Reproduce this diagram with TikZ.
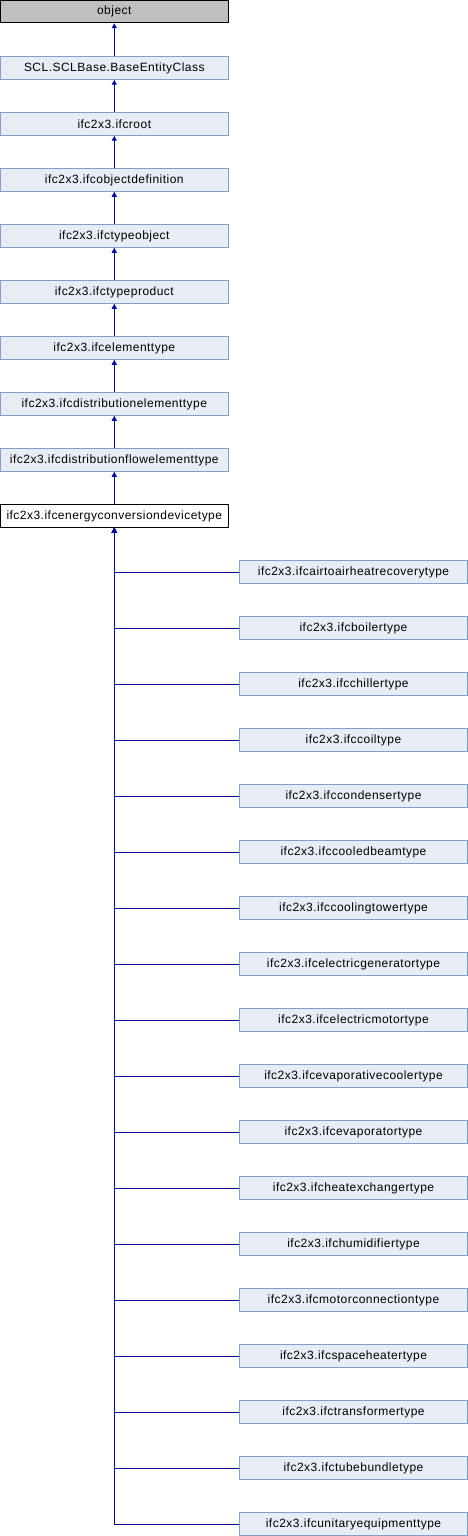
\documentclass[tikz,border=0pt]{standalone}
\usepackage{fontspec}
\setmainfont{Liberation Sans}[LetterSpace=4]
\usetikzlibrary{arrows.meta}
\definecolor{boxfill}{RGB}{232,236,245}
\definecolor{boxline}{RGB}{132,156,206}
\definecolor{edgecol}{RGB}{10,10,150}
\definecolor{grayfill}{RGB}{191,191,191}
\tikzset{
  cls/.style={draw=boxline, fill=boxfill, line width=1pt, minimum width=228pt, minimum height=22.5pt, inner sep=0pt, font=\fontsize{12}{14}\selectfont},
  rootcls/.style={cls, draw=black, fill=grayfill},
  curcls/.style={cls, draw=black, fill=white},
  edge/.style={draw=edgecol, line width=1pt, -{Triangle[length=5pt,width=5pt]}}
}
\begin{document}
\begin{tikzpicture}[x=1pt,y=-1pt]
\useasboundingbox (0,0) rectangle (468,1536);
\node[rootcls] (p0) at (114.3,11.5) {object};
\node[cls] (p1) at (114.3,68) {SCL.SCLBase.BaseEntityClass};
\node[cls] (p2) at (114.3,124) {ifc2x3.ifcroot};
\node[cls] (p3) at (114.3,180) {ifc2x3.ifcobjectdefinition};
\node[cls] (p4) at (114.3,236) {ifc2x3.ifctypeobject};
\node[cls] (p5) at (114.3,292) {ifc2x3.ifctypeproduct};
\node[cls] (p6) at (114.3,348) {ifc2x3.ifcelementtype};
\node[cls] (p7) at (114.3,404) {ifc2x3.ifcdistributionelementtype};
\node[cls] (p8) at (114.3,460) {ifc2x3.ifcdistributionflowelementtype};
\node[curcls] (p9) at (114.3,516) {ifc2x3.ifcenergyconversiondevicetype};
\foreach \a/\b in {p1/p0,p2/p1,p3/p2,p4/p3,p5/p4,p6/p5,p7/p6,p8/p7,p9/p8}
  \draw[edge] (\a.north) -- (\b.south);
\foreach \n [count=\k from 0] in {ifcairtoairheatrecoverytype,ifcboilertype,ifcchillertype,ifccoiltype,ifccondensertype,ifccooledbeamtype,ifccoolingtowertype,ifcelectricgeneratortype,ifcelectricmotortype,ifcevaporativecoolertype,ifcevaporatortype,ifcheatexchangertype,ifchumidifiertype,ifcmotorconnectiontype,ifcspaceheatertype,ifctransformertype,ifctubebundletype,ifcunitaryequipmenttype}{
  \node[cls] (c\k) at (353.5,572+56*\k) {ifc2x3.\n};
  \draw[edge] (c\k.west) -| (p9.south);
}
\end{tikzpicture}
\end{document}
